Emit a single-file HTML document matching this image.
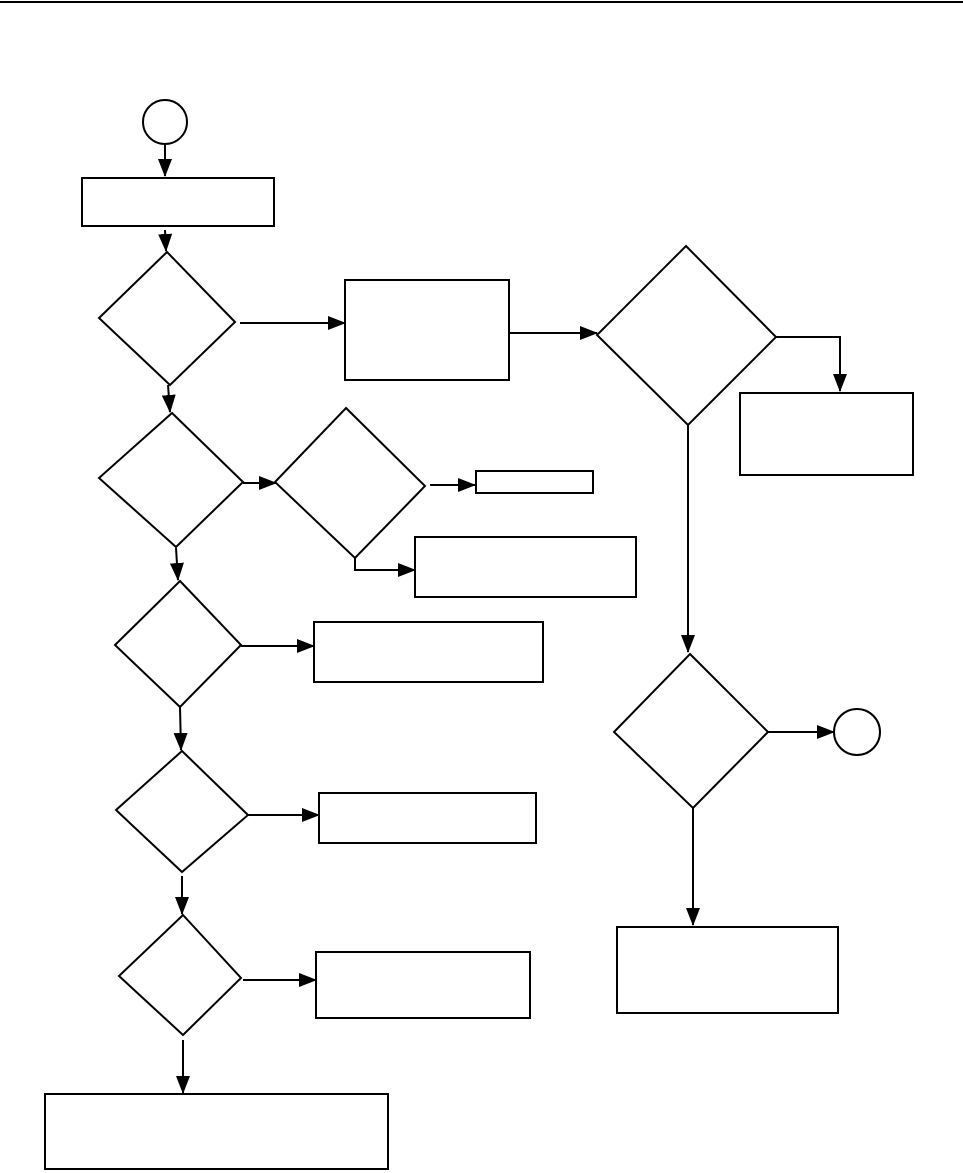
<!DOCTYPE html>
<html><head><meta charset="utf-8"><style>
html,body{margin:0;padding:0;background:#fff;}
svg{display:block;}
</style></head><body>
<svg width="963" height="1173" viewBox="0 0 963 1173" xmlns="http://www.w3.org/2000/svg">
<defs>
<marker id="a" markerWidth="18" markerHeight="14" refX="17" refY="7" orient="auto" markerUnits="userSpaceOnUse">
<path d="M0,0 L18,7 L0,14 Z" fill="#000"/>
</marker>
</defs>
<line x1="0" y1="2" x2="963" y2="2" stroke="#000" stroke-width="2"/>
<g fill="none" stroke="#000" stroke-width="2">
<!-- top circle -->
<circle cx="165" cy="122" r="22"/>
<line x1="165" y1="145" x2="165" y2="176" marker-end="url(#a)"/>
<rect x="82" y="178" width="192" height="48"/>
<line x1="165" y1="230" x2="166" y2="251" marker-end="url(#a)"/>
<!-- diamond1 -->
<polygon points="167,252 235,322 170,385 99,318"/>
<line x1="240" y1="323" x2="345" y2="323" marker-end="url(#a)"/>
<rect x="345" y="280" width="164" height="100"/>
<line x1="509" y1="333" x2="597" y2="333" marker-end="url(#a)"/>
<!-- big diamond -->
<polygon points="686,246 776,337 688,425 597,335"/>
<polyline points="776,337 840,337 840,391" marker-end="url(#a)"/>
<rect x="740" y="393" width="173" height="82"/>
<line x1="688" y1="425" x2="688" y2="652" marker-end="url(#a)"/>
<polygon points="690,654 768,732 693,808 614,732"/>
<line x1="768" y1="732" x2="834" y2="732" marker-end="url(#a)"/>
<circle cx="857" cy="732" r="23"/>
<line x1="693" y1="808" x2="693" y2="925" marker-end="url(#a)"/>
<rect x="617" y="927" width="221" height="86"/>
<!-- left column -->
<line x1="168" y1="385" x2="170" y2="412" marker-end="url(#a)"/>
<polygon points="172,413 243,482 176,547 99,478"/>
<line x1="243" y1="483" x2="276" y2="483" marker-end="url(#a)"/>
<polygon points="346,408 425,486 355,558 275,482"/>
<line x1="430" y1="485" x2="475" y2="485" marker-end="url(#a)"/>
<rect x="476" y="471" width="117" height="22"/>
<polyline points="355,558 355,570 415,570" marker-end="url(#a)"/>
<rect x="415" y="537" width="221" height="60"/>
<line x1="176" y1="548" x2="178" y2="580" marker-end="url(#a)"/>
<polygon points="180,581 241,645 180,707 115,645"/>
<line x1="241" y1="646" x2="314" y2="646" marker-end="url(#a)"/>
<rect x="314" y="622" width="229" height="60"/>
<line x1="180" y1="707" x2="181" y2="750" marker-end="url(#a)"/>
<polygon points="182,751 248,815 182,872 116,810"/>
<line x1="248" y1="815" x2="319" y2="815" marker-end="url(#a)"/>
<rect x="319" y="793" width="217" height="50"/>
<line x1="182" y1="876" x2="182" y2="914" marker-end="url(#a)"/>
<polygon points="183,915 241,978 183,1035 119,976"/>
<line x1="243" y1="980" x2="316" y2="980" marker-end="url(#a)"/>
<rect x="316" y="952" width="214" height="66"/>
<line x1="183" y1="1040" x2="183" y2="1093" marker-end="url(#a)"/>
<rect x="45" y="1094" width="343" height="75"/>
</g>
</svg>
</body></html>
